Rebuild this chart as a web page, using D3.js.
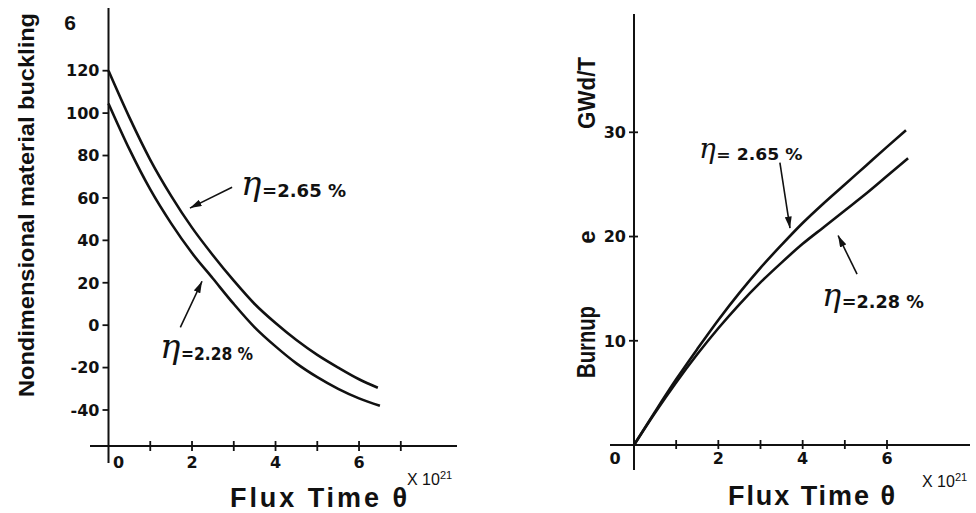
<!DOCTYPE html>
<html>
<head>
<meta charset="utf-8">
<script src="https://cdn.jsdelivr.net/npm/d3@7"></script>
<style>
  body { margin: 0; background: #fff; }
  text { font-family: "Liberation Sans", Arial, sans-serif; fill: #111; }
  .num { font-family: "DejaVu Sans", sans-serif; font-weight: bold; font-size: 16px; }
</style>
</head>
<body>
<div id="chart"></div>
<script>
// flux time (x 10^21) and nondimensional material buckling, left panel
var bucklingTheta265 = [0, 0.5, 1, 1.5, 2, 2.5, 3, 3.5, 4, 4.5, 5, 5.5, 6, 6.45];
var buckling265      = [120, 98, 78, 61, 46, 33, 21, 10, 1, -7, -14, -20, -25.5, -29.5];
var bucklingTheta228 = [0, 0.5, 1, 1.5, 2, 2.5, 3, 3.5, 4, 4.5, 5, 5.5, 6, 6.5];
var buckling228      = [104.5, 83, 64, 48, 34, 22, 10, -1, -10, -18, -24.5, -30, -34.5, -38];

// burnup GWd/T, right panel
var burnupTheta265 = [0, 0.5, 1, 1.5, 2, 2.5, 3, 3.5, 4, 4.5, 5, 5.5, 6, 6.45];
var burnup265      = [0, 3.2, 6.3, 9.2, 12, 14.6, 17, 19.2, 21.3, 23.2, 25, 26.8, 28.6, 30.2];
var burnupTheta228 = [0, 0.5, 1, 1.5, 2, 2.5, 3, 3.5, 4, 4.5, 5, 5.5, 6, 6.5];
var burnup228      = [0, 3.1, 6, 8.7, 11.2, 13.5, 15.6, 17.5, 19.3, 20.9, 22.5, 24.1, 25.8, 27.5];

// ticks
var leftXTicks = [1, 2, 3, 4, 5, 6, 7];
var leftXLabels = [2, 4, 6];
var leftYTicks = [-40, -20, 0, 20, 40, 60, 80, 100, 120];
var rightXTicks = [1, 2, 3, 4, 5, 6];
var rightXLabels = [2, 4, 6];
var rightYTicks = [10, 20, 30];

var svg = d3.select("#chart").append("svg")
    .attr("width", 976).attr("height", 513);

svg.append("defs").append("marker")
    .attr("id", "head")
    .attr("viewBox", "0 0 10 6")
    .attr("refX", 10).attr("refY", 3)
    .attr("markerUnits", "userSpaceOnUse")
    .attr("markerWidth", 12).attr("markerHeight", 7)
    .attr("orient", "auto")
    .append("path").attr("d", "M0,0 L10,3 L0,6 Z").attr("fill", "#111");

function zip(xs, ys) { return xs.map(function(x, i) { return [x, ys[i]]; }); }

function drawCurve(x, y, pts) {
    var line = d3.line()
        .x(function(d) { return x(d[0]); })
        .y(function(d) { return y(d[1]); })
        .curve(d3.curveMonotoneX);
    svg.append("path")
        .attr("d", line(pts))
        .attr("fill", "none")
        .attr("stroke", "#111")
        .attr("stroke-width", 2.6);
}

function drawArrow(x, y, from, to) {
    svg.append("line")
        .attr("x1", x(from[0])).attr("y1", y(from[1]))
        .attr("x2", x(to[0])).attr("y2", y(to[1]))
        .attr("stroke", "#111").attr("stroke-width", 1.6)
        .attr("marker-end", "url(#head)");
}

function etaLabel(px, py, etaSize, text, size, len) {
    svg.append("text")
        .attr("x", px).attr("y", py)
        .style("font-family", "'DejaVu Serif', serif")
        .style("font-style", "italic")
        .style("font-size", etaSize + "px")
        .text("\u03B7");
    svg.append("text")
        .attr("class", "num")
        .attr("x", px + etaSize * 0.62).attr("y", py + 2)
        .attr("textLength", len).attr("lengthAdjust", "spacingAndGlyphs")
        .style("font-size", size + "px")
        .text(text);
}

function fluxTitle(px, py, len, expX, expY) {
    svg.append("text")
        .attr("x", px).attr("y", py)
        .attr("textLength", len).attr("lengthAdjust", "spacing")
        .style("font-size", "27px").style("font-weight", "bold")
        .text("Flux  Time  \u03B8");
    var t = svg.append("text")
        .attr("x", expX).attr("y", expY)
        .style("font-size", "16px");
    t.append("tspan").text("X 10");
    t.append("tspan").attr("dy", -6).style("font-size", "11px").text("21");
}

/////////////////////////////////////
// left panel

var xL = d3.scaleLinear().domain([0, 7]).range([108.5, 400.8]);
var yL = d3.scaleLinear().domain([-40, 120]).range([410, 70.7]);
var axisYL = 446;

svg.append("line").attr("x1", 90).attr("x2", 457).attr("y1", axisYL).attr("y2", axisYL)
    .attr("stroke", "#111").attr("stroke-width", 2);
svg.append("line").attr("x1", xL(0)).attr("x2", xL(0)).attr("y1", 8).attr("y2", 463)
    .attr("stroke", "#111").attr("stroke-width", 2);

svg.selectAll(".lxt").data(leftXTicks).enter().append("line")
    .attr("x1", function(d) { return xL(d); }).attr("x2", function(d) { return xL(d); })
    .attr("y1", axisYL - 5).attr("y2", axisYL + 5)
    .attr("stroke", "#111").attr("stroke-width", 1.8);
svg.selectAll(".lxl").data(leftXLabels).enter().append("text")
    .attr("class", "num")
    .attr("x", function(d) { return xL(d); }).attr("y", axisYL + 22)
    .attr("text-anchor", "middle")
    .text(function(d) { return d; });
svg.append("text").attr("class", "num")
    .attr("x", xL(0) + 10).attr("y", axisYL + 22)
    .attr("text-anchor", "middle").text("0");

svg.selectAll(".lyt").data(leftYTicks).enter().append("line")
    .attr("x1", xL(0) - 6).attr("x2", xL(0))
    .attr("y1", function(d) { return yL(d); }).attr("y2", function(d) { return yL(d); })
    .attr("stroke", "#111").attr("stroke-width", 1.8);
svg.selectAll(".lyl").data(leftYTicks).enter().append("text")
    .attr("class", "num")
    .attr("x", xL(0) - 9).attr("y", function(d) { return yL(d); })
    .attr("dy", "0.36em")
    .attr("text-anchor", "end")
    .text(function(d) { return d; });

drawCurve(xL, yL, zip(bucklingTheta265, buckling265));
drawCurve(xL, yL, zip(bucklingTheta228, buckling228));

drawArrow(xL, yL, [2.96, 65], [1.95, 55.2]);
drawArrow(xL, yL, [1.72, -1], [2.24, 20.7]);

etaLabel(241, 195, 34, "=2.65 %", 17, 84);
etaLabel(160, 358, 34, "=2.28 %", 17, 72);

svg.append("text")
    .attr("transform", "translate(34,205) rotate(-90)")
    .attr("text-anchor", "middle")
    .attr("textLength", 384).attr("lengthAdjust", "spacingAndGlyphs")
    .style("font-size", "22px").style("font-weight", "bold")
    .text("Nondimensional material buckling");
svg.append("text").attr("x", 70).attr("y", 30)
    .attr("text-anchor", "middle")
    .style("font-size", "21px").style("font-weight", "bold").text("6");

fluxTitle(230, 507, 177, 407, 485);

/////////////////////////////////////
// right panel

var xR = d3.scaleLinear().domain([0, 6]).range([634, 887]);
var yR = d3.scaleLinear().domain([0, 30]).range([445, 132.3]);

svg.append("line").attr("x1", 610).attr("x2", 970).attr("y1", yR(0)).attr("y2", yR(0))
    .attr("stroke", "#111").attr("stroke-width", 2);
svg.append("line").attr("x1", xR(0)).attr("x2", xR(0)).attr("y1", 14).attr("y2", 470)
    .attr("stroke", "#111").attr("stroke-width", 2);

svg.selectAll(".rxt").data(rightXTicks).enter().append("line")
    .attr("x1", function(d) { return xR(d); }).attr("x2", function(d) { return xR(d); })
    .attr("y1", yR(0) - 5).attr("y2", yR(0) + 4)
    .attr("stroke", "#111").attr("stroke-width", 1.8);
svg.selectAll(".rxl").data(rightXLabels).enter().append("text")
    .attr("class", "num")
    .attr("x", function(d) { return xR(d); }).attr("y", yR(0) + 19)
    .attr("text-anchor", "middle")
    .text(function(d) { return d; });
svg.append("text").attr("class", "num")
    .attr("x", xR(0) - 19).attr("y", yR(0) + 19)
    .attr("text-anchor", "middle").text("0");

svg.selectAll(".ryt").data(rightYTicks).enter().append("line")
    .attr("x1", xR(0) - 5).attr("x2", xR(0) + 4)
    .attr("y1", function(d) { return yR(d); }).attr("y2", function(d) { return yR(d); })
    .attr("stroke", "#111").attr("stroke-width", 1.8);
svg.selectAll(".ryl").data(rightYTicks).enter().append("text")
    .attr("class", "num")
    .attr("x", xR(0) - 8).attr("y", function(d) { return yR(d); })
    .attr("dy", "0.36em")
    .attr("text-anchor", "end")
    .text(function(d) { return d; });

drawCurve(xR, yR, zip(burnupTheta265, burnup265));
drawCurve(xR, yR, zip(burnupTheta228, burnup228));

drawArrow(xR, yR, [3.46, 27.1], [3.70, 20.8]);
drawArrow(xR, yR, [5.29, 16.4], [4.84, 20.1]);

etaLabel(699, 158, 28, "= 2.65 %", 15, 86);
etaLabel(822, 306, 32, "=2.28 %", 17, 82);

svg.append("text")
    .attr("transform", "translate(595,342) rotate(-90)")
    .attr("text-anchor", "middle")
    .attr("textLength", 72).attr("lengthAdjust", "spacingAndGlyphs")
    .style("font-size", "25px").style("font-weight", "bold")
    .text("Burnup");
svg.append("text")
    .attr("transform", "translate(595,237) rotate(-90)")
    .attr("text-anchor", "middle")
    .style("font-size", "24px").style("font-weight", "bold")
    .text("e");
svg.append("text")
    .attr("transform", "translate(595,93) rotate(-90)")
    .attr("text-anchor", "middle")
    .attr("textLength", 72).attr("lengthAdjust", "spacingAndGlyphs")
    .style("font-size", "24px").style("font-weight", "bold")
    .text("GWd/T");

fluxTitle(728, 505, 167, 922, 487);
</script>
</body>
</html>
